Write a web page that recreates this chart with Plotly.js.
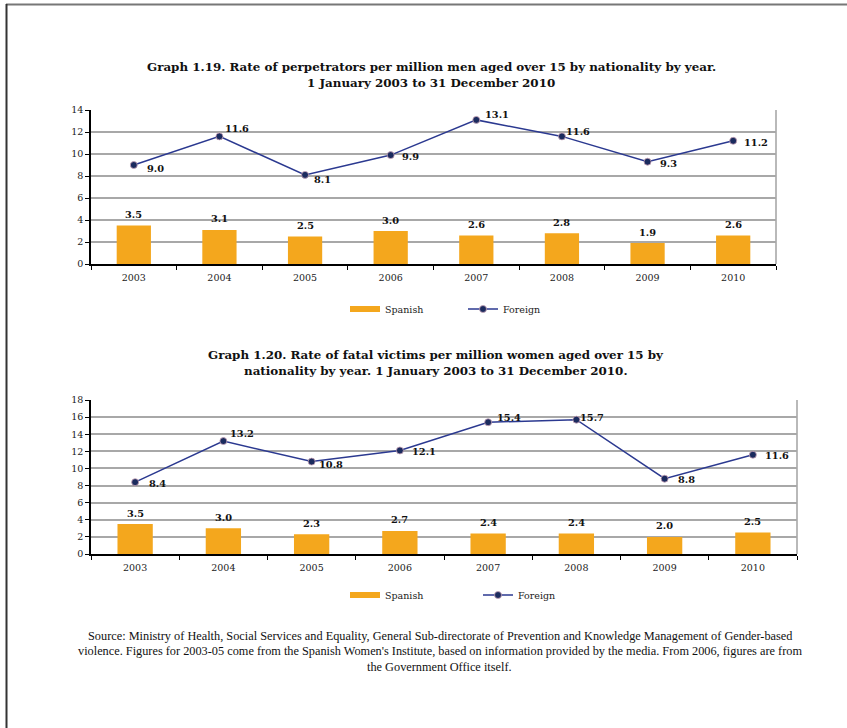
<!DOCTYPE html>
<html>
<head>
<meta charset="utf-8">
<script src="https://cdn.plot.ly/plotly-3.0.1.min.js"></script>
<style>
  html, body { margin: 0; padding: 0; background: #ffffff; }
  #chart { width: 847px; height: 728px; }
</style>
</head>
<body>
<div id="chart"></div>
<script>
// Years shown on both charts
const years = ['2003', '2004', '2005', '2006', '2007', '2008', '2009', '2010'];

// Graph 1.19: perpetrators per million men aged over 15
const perpSpanish = [3.5, 3.1, 2.5, 3.0, 2.6, 2.8, 1.9, 2.6];
const perpForeign = [9.0, 11.6, 8.1, 9.9, 13.1, 11.6, 9.3, 11.2];

// Graph 1.20: fatal victims per million women aged over 15
const victSpanish = [3.5, 3.0, 2.3, 2.7, 2.4, 2.4, 2.0, 2.5];
const victForeign = [8.4, 13.2, 10.8, 12.1, 15.4, 15.7, 8.8, 11.6];

// Series names
const seriesNames = ['Spanish', 'Foreign'];

// ---- styling ----
const W = 847, H = 728;
const px = v => v / W;          // horizontal pixel -> paper
const py = v => 1 - v / H;      // vertical pixel -> paper

const ORANGE = '#F4A71D';
const NAVY_LINE = '#2B3990';
const NAVY_MARK = '#1B2B5E';
const GRID = '#A8A8A8';
const SERIF = '"DejaVu Serif", Georgia, serif';
const TITLE_FONT = { family: SERIF, size: 11.9, color: '#111111' };
const LABEL_FONT = { family: SERIF, size: 9.8, color: '#111111' };
const TICK_FONT = { family: SERIF, size: 9.5, color: '#222222' };
const SOURCE_FONT = { family: '"Liberation Serif", "Times New Roman", serif', size: 12.3, color: '#111111' };

// where the value labels of the Foreign line sit relative to their marker (px)
const perpForeignShift = [[22, -3], [18, 8], [17, -5], [20, -1], [21, 5], [16, 5], [21, -2], [23, -2]];
const victForeignShift = [[22, -1], [19, 8], [19, -3], [24, -1], [21, 5], [16, 2], [22, -1], [24, -1]];

function fmt(v) { return '<b>' + v.toFixed(1) + '</b>'; }

function chartTraces(spanish, foreign, xa, ya, legendName) {
  return [
    {
      type: 'bar', x: years, y: spanish, xaxis: xa, yaxis: ya,
      name: seriesNames[0], marker: { color: ORANGE }, width: 0.4,
      showlegend: false, legendgroup: legendName + 'sp', hoverinfo: 'x+y'
    },
    // legend entry for the bars, drawn as a flat swatch
    {
      type: 'scatter', mode: 'lines', x: [null], y: [null], xaxis: xa, yaxis: ya,
      name: seriesNames[0], line: { color: ORANGE, width: 6 },
      legend: legendName, legendgroup: legendName + 'sp', hoverinfo: 'skip'
    },
    {
      type: 'scatter', mode: 'lines+markers', x: years, y: foreign, xaxis: xa, yaxis: ya,
      name: seriesNames[1], line: { color: NAVY_LINE, width: 1.5 },
      marker: { color: NAVY_MARK, size: 7, line: { color: '#C9A3B8', width: 0.8 } },
      legend: legendName, hoverinfo: 'x+y'
    }
  ];
}

// value labels; on a category axis annotations take the category index
function valueLabels(spanish, foreign, shifts, xa, ya) {
  const out = [];
  spanish.forEach((v, i) => out.push({
    xref: xa, yref: ya, x: i, y: v, text: fmt(v), showarrow: false,
    yshift: 11, font: LABEL_FONT
  }));
  foreign.forEach((v, i) => out.push({
    xref: xa, yref: ya, x: i, y: v, text: fmt(v), showarrow: false,
    xshift: shifts[i][0], yshift: shifts[i][1], font: LABEL_FONT
  }));
  return out;
}

function xAxis(domain, anchor) {
  return {
    domain: domain, anchor: anchor, type: 'category', range: [-0.5, 7.5],
    showline: true, linecolor: '#000000', linewidth: 2,
    ticks: 'outside', tickson: 'boundaries', ticklen: 4, tickcolor: '#000000', tickwidth: 1.2,
    ticklabelstandoff: 4,
    showgrid: false, zeroline: false, tickfont: TICK_FONT, fixedrange: true
  };
}

function yAxis(domain, anchor, top) {
  return {
    domain: domain, anchor: anchor, range: [0, top], dtick: 2, tick0: 0,
    showline: true, linecolor: '#000000', linewidth: 1.5,
    ticks: 'outside', ticklen: 4, tickcolor: '#000000', tickwidth: 1.2,
    showgrid: true, gridcolor: GRID, gridwidth: 1.6, zeroline: false,
    tickfont: TICK_FONT, fixedrange: true
  };
}

const data = [].concat(
  chartTraces(perpSpanish, perpForeign, 'x', 'y', 'legend'),
  chartTraces(victSpanish, victForeign, 'x2', 'y2', 'legend2')
);

function textLine(text, xPix, yPix, font) {
  return { xref: 'paper', yref: 'paper', x: px(xPix), y: py(yPix), xanchor: 'center', yanchor: 'middle',
           text: text, showarrow: false, font: font };
}

const annotations = [].concat(
  [
    textLine('<b>Graph 1.19. Rate of perpetrators per million men aged over 15 by nationality by year.</b>', 431, 67, TITLE_FONT),
    textLine('<b>1 January 2003 to 31 December 2010</b>', 431, 83, TITLE_FONT),
    textLine('<b>Graph 1.20. Rate of fatal victims per million women aged over 15 by</b>', 436, 355, TITLE_FONT),
    textLine('<b>nationality by year. 1 January 2003 to 31 December 2010.</b>', 436, 371, TITLE_FONT),
    textLine('Source: Ministry of Health, Social Services and Equality, General Sub-directorate of Prevention and Knowledge Management of Gender-based', 440, 636, SOURCE_FONT),
    textLine('violence. Figures for 2003-05 come from the Spanish Women\'s Institute, based on information provided by the media. From 2006, figures are from', 440, 651, SOURCE_FONT),
    textLine('the Government Office itself.', 440, 667, SOURCE_FONT)
  ],
  valueLabels(perpSpanish, perpForeign, perpForeignShift, 'x', 'y'),
  valueLabels(victSpanish, victForeign, victForeignShift, 'x2', 'y2')
);

const shapes = [
  // page frame
  { type: 'line', xref: 'paper', yref: 'paper', x0: px(6), x1: px(847), y0: py(4.5), y1: py(4.5), line: { color: '#777777', width: 2 } },
  { type: 'line', xref: 'paper', yref: 'paper', x0: px(6.5), x1: px(6.5), y0: py(4), y1: py(728), line: { color: '#333333', width: 2 } },
  // right edges of both plot areas
  { type: 'line', xref: 'x domain', yref: 'y domain', x0: 1, x1: 1, y0: 0, y1: 1, line: { color: GRID, width: 1.6 } },
  { type: 'line', xref: 'x2 domain', yref: 'y2 domain', x0: 1, x1: 1, y0: 0, y1: 1, line: { color: GRID, width: 1.6 } }
];

const legendBase = {
  orientation: 'h', xanchor: 'left', yanchor: 'middle',
  bgcolor: 'rgba(0,0,0,0)', borderwidth: 0,
  font: { family: SERIF, size: 9.5, color: '#222222' },
  itemwidth: 30, entrywidthmode: 'pixels'
};

const layout = {
  width: W, height: H,
  margin: { l: 0, r: 0, t: 0, b: 0 },
  paper_bgcolor: '#ffffff', plot_bgcolor: '#ffffff',
  xaxis: xAxis([px(91), px(776)], 'y'),
  yaxis: yAxis([py(264), py(110)], 'x', 14),
  xaxis2: xAxis([px(91), px(797)], 'y2'),
  yaxis2: yAxis([py(554), py(400)], 'x2', 18),
  legend: Object.assign({}, legendBase, { x: px(345), y: py(309), entrywidth: 73 }),
  legend2: Object.assign({}, legendBase, { x: px(345), y: py(595), entrywidth: 88 }),
  annotations: annotations,
  shapes: shapes,
  showlegend: true,
  hovermode: 'closest'
};

Plotly.newPlot('chart', data, layout, { displayModeBar: false });
</script>
</body>
</html>
